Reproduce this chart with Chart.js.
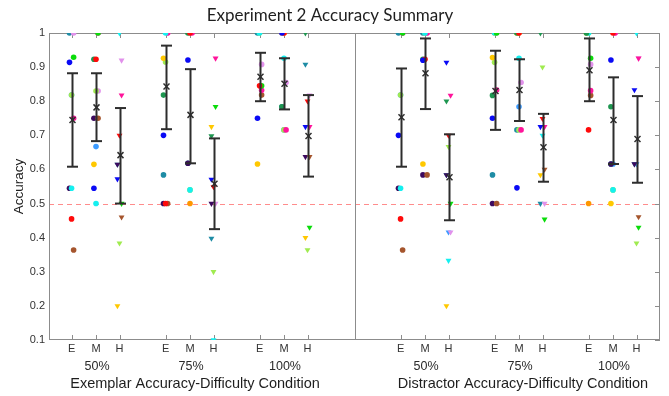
<!DOCTYPE html>
<html>
<head>
<meta charset="utf-8">
<script src="https://cdn.jsdelivr.net/npm/chart.js@4"></script>
<style>
  html, body { margin: 0; padding: 0; background: #fff; }
</style>
</head>
<body>
<canvas id="acc-chart" width="669" height="396"></canvas>
<script>
// conditions: Exemplar 50/75/100 x E/M/H, then Distractor 50/75/100 x E/M/H
const panels = ['Exemplar Accuracy-Difficulty Condition', 'Distractor Accuracy-Difficulty Condition'];
const groups = ['50%', '75%', '100%', '50%', '75%', '100%'];
const levels = ['E', 'M', 'H'];
const yTicks = [0.1, 0.2, 0.3, 0.4, 0.5, 0.6, 0.7, 0.8, 0.9, 1];
const chanceLevel = 0.5;

// per participant accuracy, 18 conditions each (null = not visible)
const pBlue      = [0.914, 0.545, 0.572, 0.70, 0.921, 0.571, 0.75, 1, 0.725, 0.70, 0.92, 0.914, 0.75, 0.546, 0.725, null, 0.921, 0.833];
const pRed       = [0.455, 0.923, 0.70, 0.5, 1, 0.549, 0.845, 1, 0.80, 0.455, 0.923, 0.70, null, 1, 0.749, 0.716, 1, null];
const pGreen     = [0.929, 1, 0.5, null, null, 0.784, 0.845, null, 0.43, 1, null, 0.5, 1, null, 0.454, 0.926, null, 0.43];
const pDkGreen   = [null, 0.923, null, 0.818, 1, 0.698, null, 0.784, 1, null, 0.923, 0.80, 0.817, 1, 1, 1, 0.784, null];
const pCyan      = [0.545, 0.5, 1, 1, 0.54, 0.10, 1, 0.926, null, 0.545, 1, 0.333, 1, 0.926, 0.70, 1, 0.54, 1];
const pMagenta   = [0.75, 1, 0.818, 1, 1, 0.926, 0.832, 0.716, 0.725, 1, 1, 0.817, 0.833, 0.716, 0.725, 0.831, 1, 0.926];
const pYellow    = [null, 0.615, 0.2, 0.926, null, 0.725, 0.616, 1, 0.40, null, 0.616, 0.2, 0.928, 1, 0.584, 1, 0.5, null];
const pOrange    = [null, null, null, null, 0.5, null, null, 1, null, null, null, null, 1, 1, null, 0.5, null, null];
const pBrown     = [0.364, 0.75, 0.46, 0.5, null, null, 0.818, null, 0.637, 0.364, 0.584, null, 0.5, null, 0.60, 0.817, null, 0.461];
const pPurple    = [0.545, 0.75, 0.615, 0.5, 0.618, 0.5, null, null, 0.637, 0.545, 0.584, 0.584, 0.5, null, null, null, 0.616, 0.616];
const pLtGreen   = [0.818, 0.83, 0.384, 0.915, 0.54, 0.30, 1, 0.716, 0.364, 0.818, 1, 0.667, 0.914, 0.716, 0.90, 1, 0.54, 0.384];
const pLavender  = [1, 0.83, 0.92, 1, null, 0.5, 0.908, 0.855, 0.818, 1, 1, 0.416, 1, 0.855, 0.5, 0.908, 1, 0.926];
const pTeal      = [1, null, 0.615, 0.584, 0.618, 0.398, 1, 0.784, 0.908, 1, 1, 0.584, 0.584, 0.716, 0.5, 1, 0.616, 0.616];
const pLtBlue    = [0.818, 0.667, null, null, null, null, null, 0.716, null, 0.818, null, 0.416, null, 0.784, null, null, 0.616, 0.616];

// group mean and error bar ends, as drawn
const meanAcc = [0.745, 0.782, 0.642, 0.843, 0.76, 0.558, 0.872, 0.851, 0.698, 0.753, 0.882, 0.577, 0.83, 0.833, 0.665, 0.891, 0.745, 0.689];
const errLow  = [0.608, 0.683, 0.5, 0.718, 0.618, 0.425, 0.80, 0.776, 0.579, 0.608, 0.777, 0.451, 0.716, 0.742, 0.564, 0.80, 0.616, 0.561];
const errHigh = [0.882, 0.882, 0.78, 0.963, 0.894, 0.691, 0.942, 0.926, 0.818, 0.896, 0.984, 0.703, 0.948, 0.923, 0.763, 0.984, 0.87, 0.815];

const participants = [
  { data: pBlue, color: '#0a0af5' },
  { data: pRed, color: '#ff0a0a' },
  { data: pGreen, color: '#0adc0a' },
  { data: pDkGreen, color: '#1e9650' },
  { data: pCyan, color: '#14f0f0' },
  { data: pMagenta, color: '#ff149b' },
  { data: pYellow, color: '#ffc800' },
  { data: pOrange, color: '#ff9600' },
  { data: pBrown, color: '#a5552d' },
  { data: pPurple, color: '#3c0a5f' },
  { data: pLtGreen, color: '#a0eb50' },
  { data: pLavender, color: '#e191eb' },
  { data: pTeal, color: '#1e8ca5' },
  { data: pLtBlue, color: '#3c9bff' }
];

// x layout: group centres, E/M/H offsets, panel divider
const groupPos = [1, 2, 3, 4.5, 5.5, 6.5];
const levelOffset = [-0.26, 0, 0.25];
const dividerPos = 3.75;
const condX = [];
groupPos.forEach(g => levelOffset.forEach(o => condX.push(g + o)));

const datasets = participants.map((p, i) => ({
  data: p.data.map((v, c) => v === null ? null : { x: condX[c] + ((i % 3) - 1) * 0.022, y: v, lvl: c % 3 }).filter(d => d),
  backgroundColor: p.color,
  borderColor: p.color,
  borderWidth: 0,
  pointStyle: ctx => (ctx.raw && ctx.raw.lvl === 2 ? 'triangle' : 'circle'),
  rotation: ctx => (ctx.raw && ctx.raw.lvl === 2 ? 180 : 0),
  pointRadius: ctx => (ctx.raw && ctx.raw.lvl === 2 ? 3.4 : 2.8)
}));

function line(ctx, x1, y1, x2, y2) {
  ctx.beginPath();
  ctx.moveTo(x1, y1);
  ctx.lineTo(x2, y2);
  ctx.stroke();
}

const decorations = {
  id: 'decorations',
  beforeDatasetsDraw(chart) {
    const { ctx, chartArea: a, scales: { x, y } } = chart;
    ctx.save();
    // 0.5 reference
    ctx.strokeStyle = '#ff8c8c';
    ctx.lineWidth = 1;
    ctx.setLineDash([5, 4]);
    const y50 = Math.round(y.getPixelForValue(chanceLevel)) + 0.5;
    line(ctx, a.left, y50, a.right, y50);
    ctx.setLineDash([]);
    // box, divider, inward ticks
    ctx.strokeStyle = '#8c8c8c';
    ctx.strokeRect(a.left + 0.5, a.top + 0.5, a.width - 1, a.height - 1);
    const xd = Math.round(x.getPixelForValue(dividerPos)) + 0.5;
    line(ctx, xd, a.top, xd, a.bottom);
    condX.forEach(v => {
      const px = Math.round(x.getPixelForValue(v)) + 0.5;
      line(ctx, px, a.bottom, px, a.bottom - 5);
      line(ctx, px, a.top, px, a.top + 5);
    });
    yTicks.forEach(v => {
      const py = Math.round(y.getPixelForValue(v)) + 0.5;
      line(ctx, a.right, py, a.right - 5, py);
    });
    ctx.restore();
  },
  afterDatasetsDraw(chart) {
    const { ctx, scales: { x, y } } = chart;
    ctx.save();
    ctx.strokeStyle = '#2d2d2d';
    condX.forEach((v, i) => {
      const px = Math.round(x.getPixelForValue(v)) + 0.5;
      const yl = y.getPixelForValue(errLow[i]);
      const yh = y.getPixelForValue(errHigh[i]);
      const ym = y.getPixelForValue(meanAcc[i]);
      ctx.lineWidth = 2;
      line(ctx, px, yl, px, yh);
      line(ctx, px - 5.5, yl, px + 5.5, yl);
      line(ctx, px - 5.5, yh, px + 5.5, yh);
      ctx.lineWidth = 1.5;
      line(ctx, px - 3, ym - 3, px + 3, ym + 3);
      line(ctx, px - 3, ym + 3, px + 3, ym - 3);
    });
    // group labels and panel titles under the E/M/H ticks
    ctx.fillStyle = '#2a2a2a';
    ctx.textAlign = 'center';
    ctx.textBaseline = 'middle';
    ctx.font = '12.5px "Liberation Sans", Arial, sans-serif';
    groupPos.forEach((g, i) => ctx.fillText(groups[i], x.getPixelForValue(g) + 1, 367));
    ctx.fillStyle = '#1e1e1e';
    ctx.font = '14.5px "Liberation Sans", Arial, sans-serif';
    ctx.fillText(panels[0], x.getPixelForValue(groupPos[1]) + 5, 384);
    ctx.fillText(panels[1], x.getPixelForValue(groupPos[4]) + 4, 384);
    ctx.restore();
  }
};

new Chart(document.getElementById('acc-chart'), {
  type: 'scatter',
  data: { datasets },
  options: {
    responsive: false,
    animation: false,
    layout: { padding: { left: 0, right: 9, top: 0, bottom: 0 } },
    plugins: {
      legend: { display: false },
      tooltip: { enabled: false },
      title: {
        display: true,
        text: 'Experiment 2 Accuracy Summary',
        color: '#1e1e1e',
        font: { family: 'Lato, "Open Sans", sans-serif', size: 17, weight: 'normal' },
        padding: { top: 5, bottom: 7.6 }
      }
    },
    scales: {
      x: {
        type: 'linear',
        min: 0.5,
        max: 7,
        afterBuildTicks: scale => { scale.ticks = condX.map(v => ({ value: v })); },
        afterFit: scale => { scale.height = 56; },
        grid: { display: false, drawTicks: false },
        border: { display: false },
        ticks: {
          autoSkip: false,
          maxRotation: 0,
          padding: 2,
          color: '#333',
          font: { family: '"Liberation Sans", Arial, sans-serif', size: 11 },
          callback: (v, i) => levels[i % 3]
        }
      },
      y: {
        min: 0.1,
        max: 1,
        afterBuildTicks: scale => { scale.ticks = yTicks.map(v => ({ value: v })); },
        afterFit: scale => { scale.width = 49; },
        grid: { display: false, drawTicks: false },
        border: { display: false },
        title: {
          display: true,
          text: 'Accuracy',
          color: '#1e1e1e',
          font: { family: '"Liberation Sans", Arial, sans-serif', size: 13.5 },
          padding: { top: 11, bottom: 0 }
        },
        ticks: {
          padding: 4,
          color: '#333',
          font: { family: '"Liberation Sans", Arial, sans-serif', size: 11 },
          callback: v => String(Math.round(v * 10) / 10)
        }
      }
    }
  },
  plugins: [decorations]
});
</script>
</body>
</html>
